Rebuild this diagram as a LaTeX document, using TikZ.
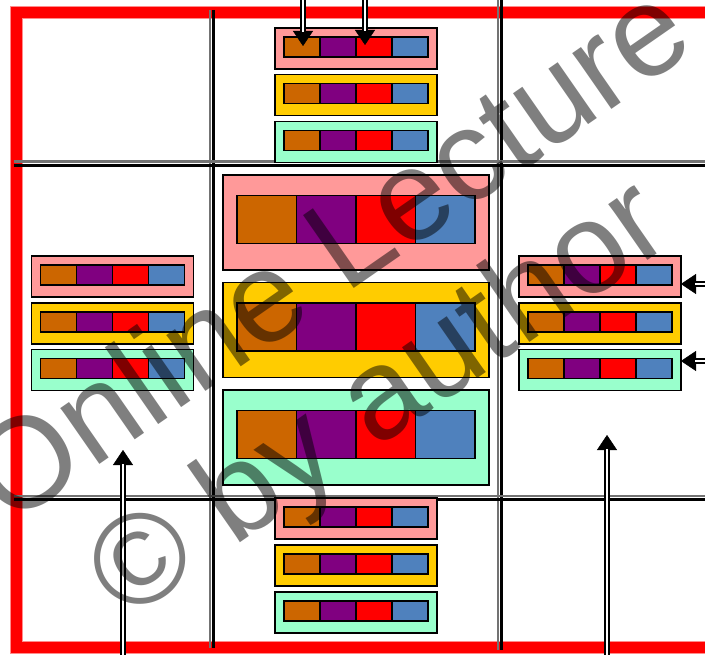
\documentclass[tikz,border=0pt]{standalone}
\usepackage{fontspec}
\newfontfamily\wmfont{Liberation Sans}
\usetikzlibrary{arrows.meta}
\definecolor{cOr}{HTML}{CC6600}
\definecolor{cPu}{HTML}{800080}
\definecolor{cRe}{HTML}{FF0000}
\definecolor{cBl}{HTML}{4F81BD}
\definecolor{bPink}{HTML}{FF9999}
\definecolor{bYel}{HTML}{FFCC00}
\definecolor{bGrn}{HTML}{99FFCC}
\tikzset{
  outerbox/.style={draw=black, line width=1.7pt, inner sep=0pt, outer sep=0pt},
  cellbox/.style={draw=black, line width=1.5pt, inner sep=0pt, outer sep=0pt},
  smallbox/.pic={
    \node[outerbox, fill=#1, minimum width=162pt, minimum height=41pt] (-box) at (0,0) {};
    \foreach \i/\cc in {0/cOr,1/cPu,2/cRe,3/cBl}
      \node[cellbox, fill=\cc, minimum width=36pt, minimum height=20pt] (-c\i) at ({-54+36*\i},-1.5) {};
  },
  bigbox/.pic={
    \node[outerbox, fill=#1, minimum width=266pt, minimum height=95pt] (-box) at (0,0) {};
    \foreach \i/\cc in {0/cOr,1/cPu,2/cRe,3/cBl}
      \node[cellbox, fill=\cc, minimum width=59.5pt, minimum height=48pt] (-c\i) at ({-89.25+59.5*\i},-3) {};
  },
  frameline/.style={draw=cRe, line width=11pt, line join=miter},
  gridblack/.style={draw=black, line width=2.4pt},
  gridgray/.style={draw=black!55, line width=2.6pt},
  arrowbody/.style={draw=black, line width=5.5pt, -{Triangle[length=15pt,width=20pt,line width=0.4pt]}},
  arrowcore/.style={draw=white, line width=1.4pt, shorten >=14pt},
  wmtext/.style={text=black, text opacity=0.5, inner sep=0pt, font=\wmfont\fontsize{129}{134}\selectfont, rotate=34.8}
}
\begin{document}
\begin{tikzpicture}[x=1pt, y=-1pt]
\useasboundingbox (0,0) rectangle (705,655);
\fill[white] (0,0) rectangle (705,655);
% red frame
\coordinate (fTR) at (712,13);
\coordinate (fTL) at (16,13);
\coordinate (fBL) at (16,647);
\coordinate (fBR) at (712,647);
\draw[draw=cRe!45, line width=13pt, line join=miter] (fTR) -- (fTL) -- (fBL) -- (fBR);
\draw[frameline] (fTR) -- (fTL) -- (fBL) -- (fBR);
% grid lines
\coordinate (v1t) at (212,10);  \coordinate (v1b) at (212,648);
\coordinate (v2t) at (500,0);   \coordinate (v2b) at (500,650);
\coordinate (h1l) at (14,164);  \coordinate (h1r) at (705,164);
\coordinate (h2l) at (14,498);  \coordinate (h2r) at (705,498);
\foreach \a/\b in {v1t/v1b, v2t/v2b}{
  \draw[gridgray] ([xshift=-2.2pt]\a) -- ([xshift=-2.2pt]\b);
  \draw[gridblack] ([xshift=1.4pt]\a) -- ([xshift=1.4pt]\b);
}
\foreach \a/\b in {h1l/h1r, h2l/h2r}{
  \draw[gridgray] ([yshift=2.2pt]\a) -- ([yshift=2.2pt]\b);
  \draw[gridblack] ([yshift=-1.4pt]\a) -- ([yshift=-1.4pt]\b);
}
% top column
\pic (t1) at (356,48.5) {smallbox=bPink};
\pic (t2) at (356,95) {smallbox=bYel};
\pic (t3) at (356,142) {smallbox=bGrn};
% bottom column
\pic (b1) at (356,518.5) {smallbox=bPink};
\pic (b2) at (356,565.5) {smallbox=bYel};
\pic (b3) at (356,612.5) {smallbox=bGrn};
% left column
\pic (l1) at (112.5,276.5) {smallbox=bPink};
\pic (l2) at (112.5,323.5) {smallbox=bYel};
\pic (l3) at (112.5,370) {smallbox=bGrn};
% right column
\pic (r1) at (600,276.5) {smallbox=bPink};
\pic (r2) at (600,323.5) {smallbox=bYel};
\pic (r3) at (600,370) {smallbox=bGrn};
% big centre boxes
\pic (m1) at (356,222.5) {bigbox=bPink};
\pic (m2) at (356,330) {bigbox=bYel};
\pic (m3) at (356,437.5) {bigbox=bGrn};
% arrows
\coordinate (a1s) at (303,-5);  \coordinate (a1e) at (303,46);
\coordinate (a2s) at (365,-5);  \coordinate (a2e) at (365,45);
\coordinate (a3s) at (123,660); \coordinate (a3e) at (123,450);
\coordinate (a4s) at (607,660); \coordinate (a4e) at (607,435);
\coordinate (a5s) at (712,284); \coordinate (a5e) at (681,284);
\coordinate (a6s) at (712,361); \coordinate (a6e) at (681,361);
\foreach \s/\e in {a1s/a1e, a2s/a2e, a3s/a3e, a4s/a4e, a5s/a5e, a6s/a6e}{
  \draw[arrowbody] (\s) -- (\e);
  \draw[arrowcore] (\s) -- (\e);
}
% watermark
\node[wmtext] (wm1) at (328,250) {Online Lecture};
\node[wmtext] (wm2) at (382,404) {© by author};
\end{tikzpicture}
\end{document}
